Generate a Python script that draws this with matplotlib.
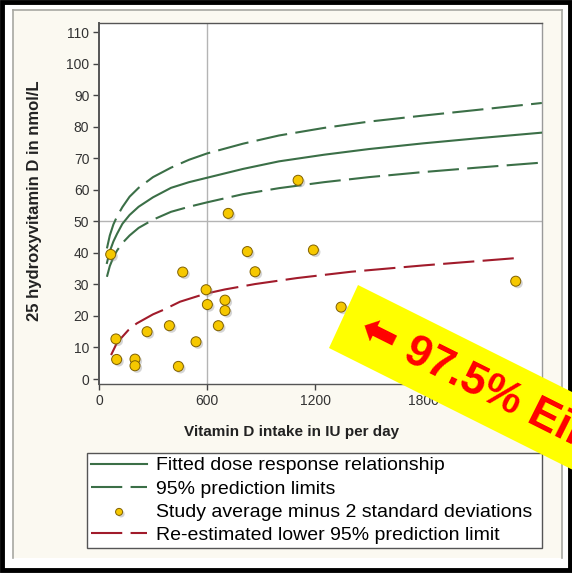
import matplotlib
matplotlib.use("Agg")
import matplotlib.pyplot as plt
import matplotlib.patheffects as pe
from matplotlib.patches import Rectangle, Polygon
from matplotlib.lines import Line2D

plt.rcParams['font.family'] = ['Liberation Sans', 'DejaVu Sans']

# Fitted dose-response curve and 95% prediction limits
curve_x = [44, 60, 80, 100, 130, 170, 220, 300, 400, 500, 600, 800, 1000, 1250, 1500, 1800, 2100, 2460]
fitted = [36.8, 40.5, 43.6, 46.0, 49.2, 52.0, 54.6, 57.6, 60.6, 62.4, 63.8, 66.6, 69.0, 71.1, 72.9, 74.7, 76.3, 78.1]
upper_pl = [41.4, 45.5, 49.0, 51.5, 54.5, 57.8, 60.6, 64.0, 67.0, 69.5, 71.5, 74.6, 77.2, 79.6, 81.6, 83.5, 85.3, 87.5]
lower_pl = [32.4, 35.8, 38.6, 40.7, 43.1, 45.5, 47.9, 50.5, 53.0, 54.6, 56.0, 58.6, 60.5, 62.4, 64.0, 65.6, 67.0, 68.6]

# Re-estimated lower 95% prediction limit
red_x = [67, 100, 163, 209, 300, 357, 450, 589, 700, 867, 1100, 1400, 1800, 2311]
red_lower = [7.6, 11.5, 15.5, 17.6, 20.5, 21.9, 24.5, 27.0, 28.4, 30.1, 32.0, 34.0, 36.0, 38.3]

# Study averages minus 2 SD
study_intake = [65, 94, 98, 200, 200, 267, 391, 441, 465, 539, 595, 602, 663, 700, 700,
                718, 824, 867, 1106, 1191, 1345, 2315]
study_level = [39.5, 12.7, 6.2, 6.3, 4.2, 15.0, 16.9, 4.0, 33.9, 11.8, 28.3, 23.6, 16.9, 25.0, 21.7,
               52.5, 40.4, 34.0, 63.0, 40.9, 22.8, 31.0]

y_ticks = list(range(0, 111, 10))
x_ticks = [0, 600, 1200, 1800]

W, H = 572, 573
fig = plt.figure(figsize=(W / 100, H / 100), dpi=100)
fig.patch.set_facecolor('white')

def fx(px):
    return px / W

def fy(py):
    return 1 - py / H

# outer black border and beige panel
fig.add_artist(Rectangle((fx(2), fy(570)), fx(568), 568 / H, transform=fig.transFigure,
                         facecolor='none', edgecolor='black', linewidth=3.5, zorder=-2))
fig.add_artist(Rectangle((fx(13), fy(558)), fx(549), (558 - 10) / H, transform=fig.transFigure,
                         facecolor='#fbf9f1', edgecolor='none', zorder=-2))
for xs, ys in [([13, 13], [10, 558]), ([13, 562], [10, 10]), ([562, 562], [10, 558])]:
    fig.add_artist(Line2D([fx(v) for v in xs], [fy(v) for v in ys], transform=fig.transFigure,
                          color='#a8a8a2', linewidth=1.2, zorder=-1))

ax = fig.add_axes([fx(99), fy(384), fx(542 - 99), (384 - 23) / H])
ax.set_facecolor('white')
ax.set_xlim(0, 2461)
ax.set_ylim(-1.585, 112.86)

ax.axvline(600, color='#b4b4b4', linewidth=1.0, zorder=1)
ax.axhline(50, color='#b4b4b4', linewidth=1.0, zorder=1)

green = '#3b6f47'
dark_red = '#a11b2b'
dash = (15, 4)

ax.plot(curve_x, fitted, color=green, linewidth=1.5, zorder=3,
        label='Fitted dose response relationship')
ax.plot(curve_x, upper_pl, color=green, linewidth=1.5, dashes=dash, zorder=3,
        label='95% prediction limits')
ax.plot(curve_x, lower_pl, color=green, linewidth=1.5, dashes=dash, zorder=3)
ax.scatter(study_intake, study_level, s=52, facecolor='#f6c800', edgecolor='#806000',
           linewidth=0.7, zorder=4, label='Study average minus 2 standard deviations',
           path_effects=[pe.SimplePatchShadow(offset=(1.5, -1.5), shadow_rgbFace='#888888', alpha=0.35),
                         pe.Normal()])
ax.plot(red_x, red_lower, color=dark_red, linewidth=1.5, dashes=dash, zorder=3,
        label='Re-estimated lower 95% prediction limit')

ax.set_yticks(y_ticks)
ax.set_xticks(x_ticks)
ax.tick_params(axis='both', direction='out', length=4, width=1, color='#444444',
               labelsize=10, labelcolor='#333333', pad=3)
for side in ['left', 'bottom', 'top']:
    ax.spines[side].set_color('#555555')
    ax.spines[side].set_linewidth(1.0)
ax.spines['left'].set_linewidth(1.4)
ax.spines['right'].set_color('#9a9a9a')
ax.spines['right'].set_linewidth(1.0)

fig.text(fx(292), fy(432), 'Vitamin D intake in IU per day', ha='center', va='center',
         fontsize=11, fontweight='bold', color='#222222')
fig.text(fx(35), fy(201), '25 hydroxyvitamin D in nmol/L', ha='center', va='center',
         rotation=90, fontsize=12, fontweight='bold', color='#222222')

handles, labels = ax.get_legend_handles_labels()
leg = fig.legend(handles, labels,
                 loc='upper left', bbox_to_anchor=(fx(87), fy(453), fx(542 - 87), 0),
                 mode='expand', fontsize=14, frameon=True, fancybox=False,
                 edgecolor='#555555', facecolor='white', framealpha=1,
                 handlelength=2.9, handletextpad=0.46, labelspacing=0.29,
                 borderpad=0.2, borderaxespad=0, markerscale=0.7)
leg.get_frame().set_linewidth(1.0)

# yellow banner with red note
u = (2 / 5 ** 0.5, 1 / 5 ** 0.5)
p1 = (358, 285)
p2 = (329, 348)
L = 500
corners = [p1, p2, (p2[0] + L * u[0], p2[1] + L * u[1]), (p1[0] + L * u[0], p1[1] + L * u[1])]
fig.add_artist(Polygon([(fx(a), fy(b)) for a, b in corners], closed=True,
                       transform=fig.transFigure, facecolor='#ffff00', edgecolor='none', zorder=10))
fig.text(fx(362), fy(327), '\u2b05 97.5% Einnahme', ha='left', va='center', rotation=-26.57,
         rotation_mode='anchor', fontsize=32, fontweight='bold', color='#ff0000', zorder=11,
         family=['Liberation Sans', 'DejaVu Sans'])

fig.savefig('out.png', dpi=100)
